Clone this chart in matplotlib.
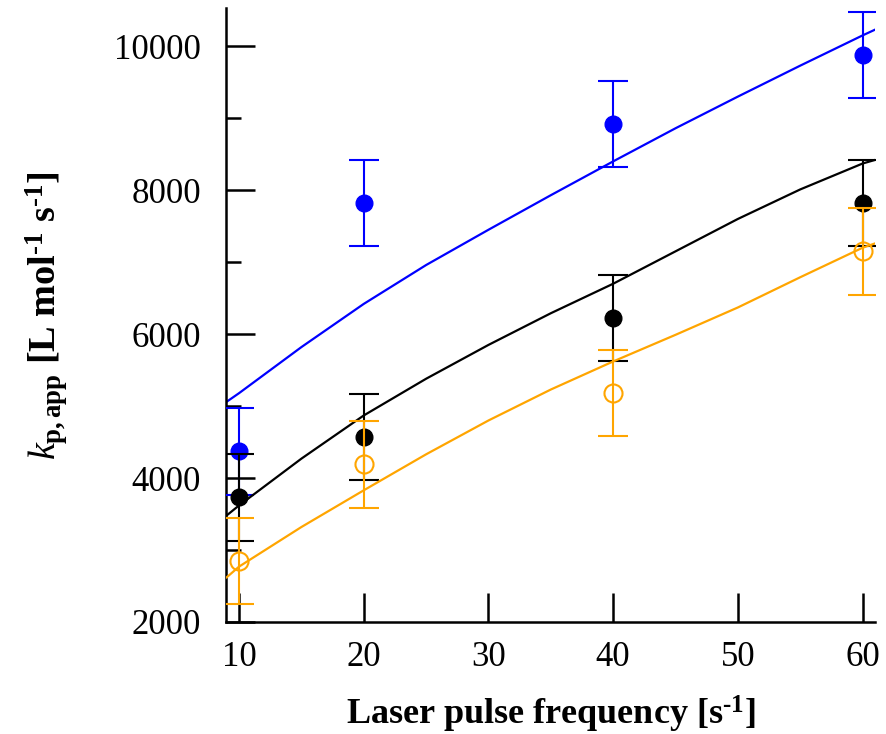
import numpy as np
import matplotlib.pyplot as plt
from matplotlib.ticker import MultipleLocator

plt.rcParams['font.family'] = 'Liberation Serif'
plt.rcParams['mathtext.fontset'] = 'custom'
plt.rcParams['mathtext.rm'] = 'Liberation Serif'
plt.rcParams['mathtext.it'] = 'Liberation Serif:italic'
plt.rcParams['mathtext.bf'] = 'Liberation Serif:bold'

# measured points (frequency, k_p,app, error)
freq = [10, 20, 40, 60]
k_blue = [4370, 7820, 8920, 9880]
k_black = [3730, 4570, 6220, 7820]
k_orange = [2850, 4190, 5180, 7150]
err = [600, 600, 600, 600]

# model curves
fit_x = [9, 10, 15, 20, 25, 30, 35, 40, 45, 50, 55, 60, 61]
fit_blue = [5060, 5180, 5820, 6420, 6960, 7450, 7930, 8400, 8860, 9300, 9730, 10150, 10230]
fit_black = [3480, 3620, 4270, 4870, 5380, 5850, 6290, 6700, 7150, 7600, 8010, 8370, 8420]
fit_orange = [2620, 2770, 3320, 3830, 4330, 4800, 5230, 5620, 5990, 6370, 6790, 7200, 7260]

fig = plt.figure(figsize=(8.87, 7.34), dpi=100)
ax = fig.add_axes([0.2548, 0.1526, 0.7317, 0.8364])

ax.plot(fit_x, fit_blue, color='#0000ff', lw=1.6, zorder=2)
ax.errorbar(freq, k_blue, yerr=err, fmt='o', color='#0000ff', ms=12,
            capsize=11, elinewidth=1.5, capthick=1.5, zorder=3)

ax.plot(fit_x, fit_black, color='black', lw=1.6, zorder=4)
ax.errorbar(freq, k_black, yerr=err, fmt='o', color='black', ms=12,
            capsize=11, elinewidth=1.5, capthick=1.5, zorder=5)

ax.plot(fit_x, fit_orange, color='#ffa500', lw=1.6, zorder=6)
ax.errorbar(freq, k_orange, yerr=err, fmt='o', color='#ffa500', ms=13,
            mfc='none', mew=1.5, capsize=11, elinewidth=1.5, capthick=1.5, zorder=7)

ax.set_xlim(8.95, 61)
ax.set_ylim(2000, 10530)
ax.set_xticks([10, 20, 30, 40, 50, 60])
ax.set_yticks([2000, 4000, 6000, 8000, 10000])
ax.yaxis.set_minor_locator(MultipleLocator(1000))

for s in ['top', 'right']:
    ax.spines[s].set_visible(False)
for s in ['left', 'bottom']:
    ax.spines[s].set_linewidth(1.8)

ax.tick_params(which='major', direction='in', length=21, width=1.8, labelsize=25)
ax.tick_params(which='minor', direction='in', length=11, width=1.8)
ax.tick_params(axis='x', which='major', pad=14)
ax.tick_params(axis='y', which='major', pad=18)

ax.set_xlabel('Laser pulse frequency [s$^{\\mathbf{\u20101}}$]', fontsize=26,
              fontweight='bold', labelpad=14)
ax.set_ylabel('$\\mathit{k}_{\\mathbf{p,app}}$ [L mol$^{\\mathbf{\u20101}}$ s$^{\\mathbf{\u20101}}$]',
              fontsize=27.5, fontweight='bold', labelpad=32)

fig.savefig('out.png', dpi=100)
